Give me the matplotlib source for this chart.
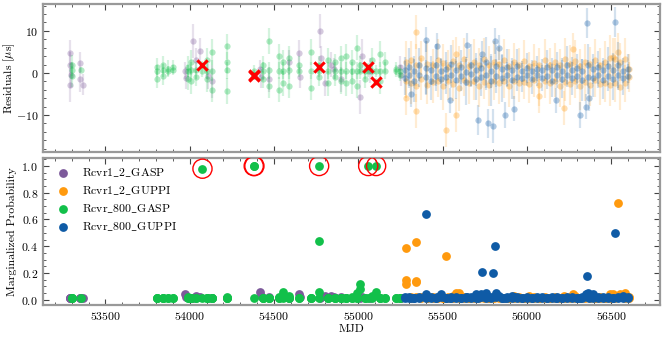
import numpy as np
import matplotlib
matplotlib.use("Agg")
import matplotlib.pyplot as plt
from matplotlib.ticker import AutoMinorLocator, MultipleLocator

plt.rcParams['font.family'] = 'serif'
plt.rcParams['font.serif'] = ['cmr10']
plt.rcParams['mathtext.fontset'] = 'cm'
plt.rcParams['axes.formatter.use_mathtext'] = True

backends = ['Rcvr1_2_GASP', 'Rcvr1_2_GUPPI', 'Rcvr_800_GASP', 'Rcvr_800_GUPPI']
colors = ['#7d5a9b', '#ff9a0e', '#12c04a', '#0f5ba6']

# Rcvr1_2_GASP
p_mjd = [53290, 53290, 53292, 53295, 53350, 53352, 53370, 53975, 53980, 54018,
         54040, 54062, 54110, 54130, 54420, 54425, 54470, 54590, 54650, 54655,
         54776, 54780, 54800, 54840, 54855, 54900, 55012, 55020, 55070, 55250, 55255]
p_res = [4.8, -2.8, 2.0, -0.5, 2.4, -1.5, -2.8, 0.5, -1.2, 7.6,
         3.0, 5.2, -0.8, -2.0, 1.0, -1.0, -1.5, 2.5, 4.8, -1.0,
         10.0, 3.5, -2.5, 2.0, 1.0, -1.5, -5.7, 4.0, 0.5, 1.5, -0.5]
p_err = [3, 4, 3, 3, 2.5, 3, 2.5, 2, 2.5, 4,
         3, 3, 3, 4, 2, 2.5, 3, 3, 3, 2.5,
         4, 3, 3, 3, 2.5, 3, 4, 4, 3, 2.5, 2.5]
p_prob = [0.01, 0.01, 0.01, 0.01, 0.01, 0.01, 0.01, 0.04, 0.02, 0.01,
          0.03, 0.02, 0.01, 0.01, 0.06, 0.03, 0.02, 0.01, 0.04, 0.02,
          0.01, 0.02, 0.03, 0.03, 0.02, 0.02, 0.01, 0.02, 0.01, 0.01, 0.01]

# Rcvr1_2_GUPPI
o_mjd = [55282, 55282, 55315, 55315, 55341, 55341, 55375, 55375, 55405, 55405,
         55445, 55445, 55475, 55475, 55505, 55505, 55535, 55535, 55565, 55565,
         55595, 55595, 55625, 55625, 55655, 55655, 55685, 55685, 55715, 55715,
         55745, 55745, 55775, 55775, 55805, 55805, 55835, 55835, 55865, 55865,
         55895, 55895, 55925, 55925, 55955, 55955, 55985, 55985, 56015, 56015,
         56045, 56045, 56075, 56075, 56105, 56105, 56135, 56135, 56165, 56165,
         56195, 56195, 56225, 56225, 56255, 56255, 56285, 56285, 56315, 56315,
         56345, 56345, 56375, 56375, 56405, 56405, 56435, 56435, 56465, 56465,
         56495, 56495, 56525, 56525, 56555, 56555, 56585, 56585, 56606, 56606,
         55282, 55341, 55341, 55518, 55582, 55582, 56070, 56218, 56276, 56512, 56541]
o_res = [2.5, -2.0, 3.0, -2.5, 2.0, -3.0, 3.5, -1.5, 2.2, -2.8,
         1.8, -2.2, 3.0, -1.8, 2.4, -3.2, 1.5, -2.0, 2.8, -2.6,
         2.0, -3.5, 3.2, -1.6, 1.6, -2.4, 2.6, -2.0, 2.0, -3.0,
         3.4, -2.2, 1.8, -2.8, 2.5, -1.9, 2.1, -2.5, 3.0, -2.0,
         1.7, -3.1, 2.7, -1.8, 2.0, -2.4, 2.9, -2.1, 1.6, -2.6,
         2.4, -1.7, 1.9, -2.9, 3.1, -2.0, 2.0, -2.5, 2.6, -1.8,
         1.8, -3.0, 3.3, -2.2, 2.1, -2.7, 2.8, -1.9, 1.7, -3.2,
         2.5, -2.1, 2.2, -2.8, 3.0, -1.7, 1.9, -2.6, 2.7, -2.3,
         3.6, -2.9, 3.2, -2.4, 2.6, -3.3, 3.4, -2.5, 1.0, -1.0,
         -6.0, 9.8, -9.0, -13.6, -10.0, 4.5, -5.5, -8.4, 5.6, 3.8, 5.0]
o_err = [5.0, 4.0, 4.5, 5.0, 5.0, 4.0, 4.0, 5.0, 5.5, 4.5,
         4.0, 5.0, 5.0, 4.0, 4.5, 5.5, 4.0, 4.5, 5.0, 4.0,
         4.5, 5.5, 5.0, 4.0, 4.0, 5.0, 5.5, 4.5, 4.0, 5.0,
         5.0, 4.0, 4.5, 5.0, 5.0, 4.5, 4.0, 5.0, 5.0, 4.0,
         4.0, 5.0, 4.5, 4.5, 4.0, 4.5, 5.0, 4.0, 3.5, 4.5,
         4.5, 4.0, 4.0, 5.0, 5.0, 4.0, 4.0, 5.0, 4.5, 4.0,
         4.0, 5.0, 5.0, 4.5, 4.5, 5.0, 5.0, 4.0, 4.0, 5.5,
         4.5, 4.5, 4.0, 5.0, 5.0, 4.0, 4.0, 5.0, 5.0, 4.5,
         5.5, 5.0, 5.0, 4.5, 4.5, 5.5, 5.0, 4.5, 3.5, 3.5,
         4.0, 4.0, 4.0, 4.0, 4.0, 4.0, 4.0, 4.0, 4.0, 4.5, 4.5]
o_prob = [0.15, 0.12, 0.02, 0.01, 0.13, 0.02, 0.01, 0.02, 0.01, 0.01,
          0.02, 0.01, 0.01, 0.02, 0.01, 0.01, 0.02, 0.01, 0.01, 0.03,
          0.05, 0.01, 0.01, 0.02, 0.01, 0.01, 0.02, 0.01, 0.03, 0.01,
          0.01, 0.02, 0.01, 0.01, 0.02, 0.01, 0.01, 0.02, 0.01, 0.01,
          0.01, 0.01, 0.03, 0.01, 0.01, 0.02, 0.01, 0.01, 0.03, 0.01,
          0.01, 0.02, 0.01, 0.01, 0.01, 0.02, 0.01, 0.01, 0.02, 0.01,
          0.01, 0.01, 0.02, 0.01, 0.01, 0.02, 0.03, 0.01, 0.01, 0.01,
          0.02, 0.01, 0.01, 0.02, 0.01, 0.01, 0.01, 0.02, 0.01, 0.01,
          0.04, 0.01, 0.02, 0.01, 0.04, 0.02, 0.05, 0.01, 0.02, 0.01,
          0.39, 0.43, 0.14, 0.33, 0.05, 0.02, 0.01, 0.03, 0.04, 0.04, 0.72]

# Rcvr_800_GASP
g_mjd = [53300, 53300, 53300, 53353, 53806, 53806, 53806, 53841, 53841, 53841,
         53871, 53871, 53900, 53900, 53988, 53988, 53988, 54010, 54010, 54010,
         54040, 54040, 54076, 54076, 54100, 54100, 54100, 54135, 54135, 54135,
         54224, 54224, 54224, 54224, 54380, 54384, 54382, 54435, 54435, 54435,
         54470, 54470, 54470, 54530, 54530, 54530, 54555, 54555, 54555, 54590,
         54590, 54590, 54647, 54647, 54717, 54717, 54717, 54768, 54770, 54770,
         54770, 54823, 54823, 54823, 54865, 54865, 54865, 54900, 54900, 54900,
         54930, 54930, 54930, 54960, 54960, 54960, 54990, 54990, 54990, 55012,
         55012, 55040, 55040, 55059, 55059, 55080, 55080, 55106, 55106, 55130,
         55130, 55130, 55160, 55160, 55224, 55224, 55247, 55247]
g_res = [0.6, 1.8, -0.8, 0.8, 0.5, -1.5, 1.5, 0.6, 2.0, -0.8,
         0.5, 1.0, 0.6, 1.5, 0.5, -1.5, 1.5, 0.6, 2.5, -2.0,
         0.6, -1.0, 1.9, 0.5, 0.5, 3.0, -1.5, 0.5, 5.0, -4.0,
         0.6, 6.3, -4.3, 2.5, -0.7, -0.4, 0.5, 0.5, 2.0, -1.5,
         0.6, 7.6, -3.0, 0.5, 4.0, -4.0, 0.5, 2.5, -2.5, 0.6,
         -3.0, 3.5, 0.5, 2.0, 0.5, 5.0, -3.5, 1.4, 0.5, 2.0,
         -1.0, 0.5, 3.0, -2.5, 0.5, 2.5, -1.0, 0.5, 3.5, -2.0,
         0.5, 4.0, -2.5, 0.5, 2.5, -2.0, 0.5, 6.0, -3.0, 0.5,
         2.0, 0.5, -1.5, 1.4, 0.5, 0.5, 3.0, -2.1, 0.5, 0.5,
         4.5, -2.0, 0.5, 2.5, 0.5, 1.0, 0.5, -0.5]
g_err = [2.0, 2.5, 2.5, 0.6, 1.5, 2.0, 2.0, 1.5, 2.0, 2.0,
         1.2, 2.0, 1.2, 1.5, 1.5, 2.5, 2.5, 2.0, 3.0, 3.0,
         2.0, 2.0, 1.0, 1.5, 2.0, 3.0, 3.0, 2.5, 3.0, 3.0,
         2.0, 3.0, 3.0, 2.5, 1.0, 1.0, 1.5, 2.0, 2.0, 2.0,
         2.0, 3.0, 3.0, 2.0, 3.0, 3.0, 2.0, 3.0, 3.0, 2.0,
         3.0, 3.0, 1.5, 2.0, 2.0, 3.0, 3.0, 1.0, 1.5, 2.0,
         2.0, 2.0, 3.0, 3.0, 2.0, 2.0, 2.0, 2.0, 3.0, 3.0,
         2.0, 3.0, 3.0, 2.0, 3.0, 3.0, 2.0, 3.0, 3.0, 2.0,
         2.0, 2.0, 2.0, 1.0, 1.5, 2.0, 3.0, 1.0, 1.5, 2.0,
         3.0, 3.0, 2.0, 2.5, 1.5, 1.5, 1.5, 1.5]
g_prob = [0.01, 0.01, 0.01, 0.01, 0.01, 0.01, 0.01, 0.01, 0.01, 0.01,
          0.01, 0.01, 0.01, 0.01, 0.01, 0.01, 0.02, 0.01, 0.01, 0.01,
          0.01, 0.01, 0.98, 0.01, 0.01, 0.01, 0.01, 0.01, 0.01, 0.01,
          0.01, 0.02, 0.01, 0.01, 1.0, 1.0, 0.01, 0.01, 0.01, 0.01,
          0.01, 0.01, 0.01, 0.02, 0.01, 0.01, 0.06, 0.03, 0.01, 0.03,
          0.01, 0.01, 0.01, 0.01, 0.01, 0.01, 0.01, 1.0, 0.44, 0.06,
          0.01, 0.01, 0.01, 0.01, 0.01, 0.01, 0.01, 0.01, 0.01, 0.01,
          0.01, 0.01, 0.01, 0.02, 0.01, 0.01, 0.01, 0.01, 0.05, 0.12,
          0.08, 0.01, 0.01, 1.0, 0.01, 0.01, 0.03, 1.0, 0.06, 0.01,
          0.01, 0.01, 0.01, 0.01, 0.01, 0.01, 0.01, 0.01]

# Rcvr_800_GUPPI
b_mjd = [55276, 55276, 55300, 55300, 55330, 55330, 55360, 55360, 55400, 55400,
         55430, 55430, 55460, 55460, 55490, 55490, 55520, 55520, 55550, 55550,
         55580, 55580, 55610, 55610, 55640, 55640, 55670, 55670, 55700, 55700,
         55730, 55730, 55760, 55760, 55790, 55790, 55820, 55820, 55850, 55850,
         55880, 55880, 55910, 55910, 55940, 55940, 55970, 55970, 56000, 56000,
         56030, 56030, 56060, 56060, 56090, 56090, 56120, 56120, 56150, 56150,
         56180, 56180, 56210, 56210, 56240, 56240, 56270, 56270, 56300, 56300,
         56330, 56330, 56360, 56360, 56390, 56390, 56420, 56420, 56450, 56450,
         56480, 56480, 56510, 56510, 56540, 56540, 56570, 56570, 56600, 56600,
         55312, 55400, 55470, 55547, 55647, 55712, 55735, 55771, 55800, 55812,
         55835, 55870, 55923, 56176, 56318, 56353, 56359, 56371, 56524]
b_res = [0.8, -1.2, 1.5, -0.6, 0.5, -1.8, 2.0, -0.4, 1.2, -1.0,
         0.6, -2.0, 1.8, -0.8, 0.4, -1.5, 1.0, -0.9, 2.2, -0.5,
         0.7, -1.6, 1.4, -0.7, 0.3, -2.2, 1.9, -0.3, 0.8, -1.4,
         1.1, -1.0, 2.5, -0.6, 0.5, -1.9, 1.6, -0.8, 0.9, -1.3,
         1.3, -0.4, 0.6, -1.7, 1.7, -0.9, 0.4, -1.1, 1.2, -0.6,
         0.5, -1.4, 1.0, -0.5, 0.8, -1.2, 1.5, -0.7, 0.6, -1.8,
         1.4, -0.6, 0.5, -1.5, 1.8, -0.4, 0.7, -1.3, 1.1, -0.8,
         0.4, -1.6, 2.0, -0.9, 0.9, -1.2, 1.3, -0.5, 0.6, -1.7,
         1.6, -0.7, 0.8, -1.4, 1.9, -0.6, 0.5, -1.2, 1.0, -0.8,
         -5.0, 7.9, 6.4, -6.5, 6.6, -11.2, 4.5, -12.0, -12.6, 7.6,
         6.0, -10.0, -8.5, -6.5, -10.0, -8.0, 11.9, -6.0, 12.1]
b_err = [3.0, 4.0, 4.5, 3.0, 3.5, 5.0, 4.0, 3.0, 6.5, 4.0,
         3.5, 4.5, 5.0, 3.5, 3.0, 5.0, 4.0, 4.0, 4.5, 3.0,
         3.0, 4.5, 4.0, 3.5, 3.5, 5.5, 5.0, 3.0, 4.0, 5.0,
         3.0, 4.5, 6.0, 3.5, 4.0, 6.0, 5.0, 4.0, 3.5, 5.5,
         4.5, 3.0, 3.0, 4.5, 4.0, 3.5, 2.5, 3.5, 3.5, 2.5,
         2.5, 3.5, 3.0, 2.5, 2.5, 3.0, 4.0, 3.0, 3.0, 4.0,
         3.5, 3.0, 3.0, 4.5, 4.5, 3.0, 3.0, 4.0, 3.5, 3.0,
         3.0, 5.0, 5.0, 4.0, 3.5, 4.5, 4.0, 3.0, 3.0, 4.5,
         4.5, 3.5, 4.0, 5.0, 5.5, 3.5, 3.0, 4.0, 3.5, 3.0,
         3.0, 3.0, 3.0, 3.0, 3.0, 3.5, 3.0, 3.5, 4.0, 3.0,
         3.0, 3.0, 3.0, 3.0, 3.0, 3.0, 3.5, 3.0, 3.5]
b_prob = [0.02, 0.01, 0.01, 0.02, 0.01, 0.01, 0.02, 0.01, 0.04, 0.01,
          0.01, 0.02, 0.01, 0.01, 0.04, 0.02, 0.01, 0.01, 0.02, 0.01,
          0.01, 0.02, 0.01, 0.01, 0.02, 0.01, 0.01, 0.02, 0.04, 0.01,
          0.02, 0.04, 0.01, 0.05, 0.02, 0.01, 0.05, 0.02, 0.01, 0.01,
          0.02, 0.01, 0.01, 0.03, 0.01, 0.02, 0.01, 0.01, 0.02, 0.01,
          0.01, 0.01, 0.02, 0.01, 0.01, 0.02, 0.01, 0.01, 0.02, 0.01,
          0.01, 0.02, 0.01, 0.01, 0.02, 0.01, 0.01, 0.02, 0.01, 0.01,
          0.02, 0.01, 0.05, 0.02, 0.04, 0.01, 0.02, 0.01, 0.01, 0.02,
          0.01, 0.02, 0.01, 0.01, 0.02, 0.01, 0.03, 0.01, 0.02, 0.01,
          0.01, 0.64, 0.02, 0.01, 0.02, 0.01, 0.21, 0.02, 0.20, 0.40,
          0.03, 0.01, 0.02, 0.01, 0.01, 0.04, 0.18, 0.01, 0.50]

data = [(p_mjd, p_res, p_err, p_prob), (o_mjd, o_res, o_err, o_prob),
        (g_mjd, g_res, g_err, g_prob), (b_mjd, b_res, b_err, b_prob)]

fig = plt.figure(figsize=(6.65, 3.37), dpi=100)
ax1 = fig.add_axes([43 / 665, 1 - 152 / 337, 617 / 665, 148 / 337])
ax2 = fig.add_axes([43 / 665, 1 - 305 / 337, 617 / 665, 147 / 337], sharex=ax1)

for name, c, (mjd, res, err, prob) in zip(backends, colors, data):
    mjd = np.array(mjd)
    res = np.array(res)
    err = np.array(err)
    prob = np.array(prob)
    # error bars faint, points a bit stronger
    ax1.errorbar(mjd, res, yerr=err, fmt='none', ecolor=c, alpha=0.18,
                 elinewidth=1.6, capsize=0)
    ax1.plot(mjd, res, 'o', color=c, ms=4.5, alpha=0.32, mew=0)
    ax2.scatter(mjd, prob, s=40, color=c, label=name.replace('_', r'\_'),
                zorder=3, linewidths=0)

# outliers (marginalized probability > 0.9)
for mjd, res, err, prob in data:
    mjd = np.array(mjd)
    res = np.array(res)
    prob = np.array(prob)
    bad = prob > 0.9
    ax1.scatter(mjd[bad], res[bad], marker='x', s=55, color='red', linewidths=2.2, zorder=5)
    ax2.scatter(mjd[bad], prob[bad], s=190, facecolors='none', edgecolors='red',
                linewidths=1.0, zorder=4)

handles, labels = ax2.get_legend_handles_labels()
ax2.legend(handles, [r'$\mathrm{' + l + '}$' for l in labels], loc='upper left',
           frameon=False, fontsize=8.5, handletextpad=0.6, labelspacing=0.45,
           borderaxespad=0.3, bbox_to_anchor=(0.0, 1.0))

ax1.set_xlim(53130, 56790)
ax1.set_ylim(-18.8, 16.4)
ax2.set_ylim(-0.04, 1.06)
ax1.yaxis.set_major_locator(MultipleLocator(10))
ax2.yaxis.set_major_locator(MultipleLocator(0.2))
ax2.xaxis.set_major_locator(MultipleLocator(500))
ax1.set_ylabel(r'Residuals [$\mu$s]', fontsize=8.5)
ax2.set_ylabel('Marginalized Probability', fontsize=8.5)
ax2.set_xlabel('MJD', fontsize=8.5, labelpad=2)

for ax in (ax1, ax2):
    ax.xaxis.set_minor_locator(AutoMinorLocator(5))
    ax.yaxis.set_minor_locator(AutoMinorLocator(4 if ax is ax2 else 5))
    ax.tick_params(which='both', direction='in', top=True, right=True,
                   labelsize=8.5, color='#444444')
    ax.tick_params(which='major', length=4, width=0.8)
    ax.tick_params(which='minor', length=2, width=0.6)
    for s in ax.spines.values():
        s.set_color('#999999')
        s.set_linewidth(1.6)
plt.setp(ax1.get_xticklabels(), visible=False)
ax1.yaxis.set_label_coords(-0.042, 0.5)
ax2.yaxis.set_label_coords(-0.042, 0.5)

fig.savefig('out.png', dpi=100)
